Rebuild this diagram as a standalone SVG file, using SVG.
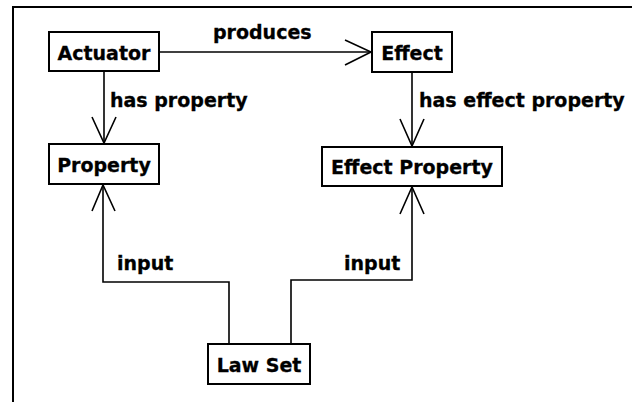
<svg xmlns="http://www.w3.org/2000/svg" width="632" height="402" viewBox="0 0 632 402">
<style>
.box{fill:#fff;stroke:#000;stroke-width:2}
.lbl{font-family:"DejaVu Sans",Verdana,sans-serif;font-weight:bold;font-size:19px;fill:#000;stroke:#000;stroke-width:0.3}
.c{text-anchor:middle}
.line{fill:none;stroke:#000;stroke-width:1.6}
</style>
<rect width="632" height="402" fill="#fff"/>
<path d="M13 402V7H632" fill="none" stroke="#000" stroke-width="2"/>
<g id="connectors">
<path class="line" d="M160 52H371"/>
<path class="line" d="M345 40L371 52L345 65"/>
<text class="lbl" x="213" y="39">produces</text>
<path class="line" d="M104 71V143"/>
<path class="line" d="M92 117L104 143L116 117"/>
<text class="lbl" x="110" y="107">has property</text>
<path class="line" d="M412 72V146"/>
<path class="line" d="M400 119L412 146L424 119"/>
<text class="lbl" x="419" y="107">has effect property</text>
<path class="line" d="M229 344V282H103V185"/>
<path class="line" d="M92 211L103 185L115 211"/>
<text class="lbl" x="117" y="270">input</text>
<path class="line" d="M291 344V280H412V187"/>
<path class="line" d="M400 214L412 187L424 214"/>
<text class="lbl" x="344" y="270">input</text>
</g>
<g id="actuator"><rect class="box" x="49" y="32" width="110" height="39"/><text class="lbl c" x="104" y="60">Actuator</text></g>
<g id="effect"><rect class="box" x="372" y="32" width="80" height="40"/><text class="lbl c" x="412" y="60">Effect</text></g>
<g id="property"><rect class="box" x="49" y="144" width="110" height="40"/><text class="lbl c" x="104" y="172">Property</text></g>
<g id="effect-property"><rect class="box" x="322" y="147" width="180" height="39"/><text class="lbl c" x="412" y="174">Effect Property</text></g>
<g id="law-set"><rect class="box" x="208" y="344" width="102" height="40"/><text class="lbl c" x="259" y="372">Law Set</text></g>
</svg>
